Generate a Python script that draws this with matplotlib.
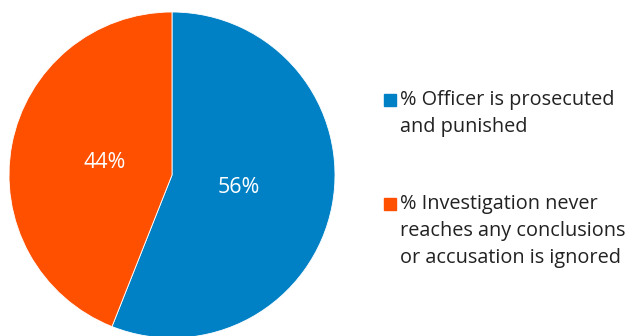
import matplotlib.pyplot as plt
from matplotlib.patches import Rectangle

plt.rcParams['font.family'] = ['Open Sans', 'DejaVu Sans']

labels = ['% Officer is prosecuted\nand punished',
          '% Investigation never\nreaches any conclusions\nor accusation is ignored']
values = [56, 44]
colors = ['#0081C6', '#FF5000']

W, H = 632, 336
fig = plt.figure(figsize=(W / 100, H / 100), dpi=100)

# pie axes placed in pixel terms: centre (172, 175), radius 163
cx, cy, r = 172, 175, 163
ax = fig.add_axes([(cx - r) / W, (H - cy - r) / H, 2 * r / W, 2 * r / H])
wedges, texts, autotexts = ax.pie(values, colors=colors, startangle=90, counterclock=False,
                                  autopct='%1.0f%%', pctdistance=0.42, radius=1,
                                  wedgeprops=dict(edgecolor='white', linewidth=0.6),
                                  textprops=dict(color='white', fontsize=15.5))
ax.set_xlim(-1, 1)
ax.set_ylim(-1, 1)
ax.set_aspect('equal')
ax.axis('off')

# legend drawn by hand so the square sits on the first line
legend_tops = [100, 204]
line_h = 27
for lab, col, y in zip(labels, colors, legend_tops):
    fig.patches.append(Rectangle((384 / W, (H - y - 6) / H), 12 / W, 12 / H,
                                 transform=fig.transFigure, color=col))
    for i, line in enumerate(lab.split('\n')):
        fig.text(400 / W, (H - y - i * line_h) / H, line, fontsize=14.3,
                 color='#222222', va='center', ha='left')

fig.savefig('out.png', dpi=100)
